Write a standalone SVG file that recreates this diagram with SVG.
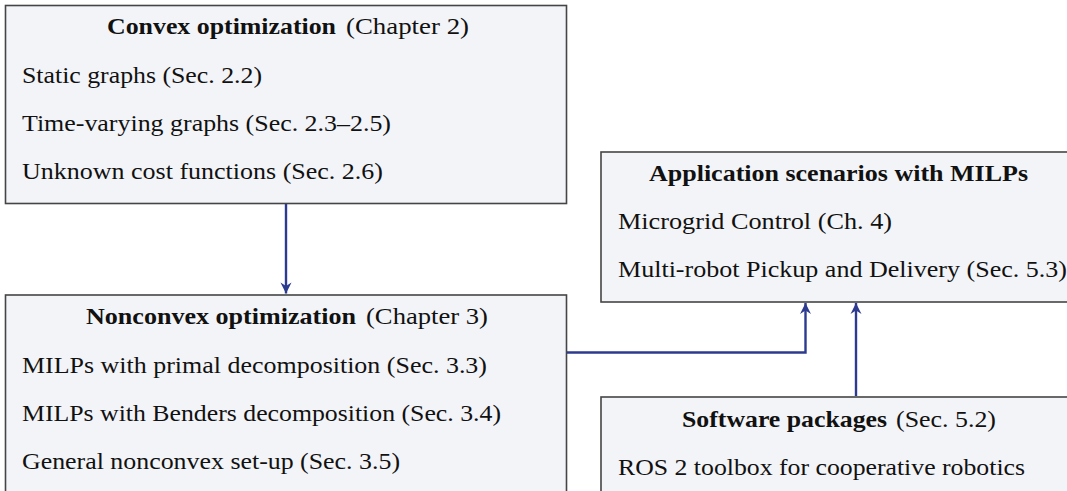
<svg xmlns="http://www.w3.org/2000/svg" width="1067" height="491" viewBox="0 0 1067 491">
<style>
.box{fill:#f3f4f8;stroke:#454545;stroke-width:1.6}
text{font-family:"Liberation Serif","Times New Roman",serif;font-size:24px;fill:#111}
.b{font-weight:bold}
.conn{fill:none;stroke:#2c3b8f;stroke-width:2.4}
</style>
<defs>
<marker id="arr" viewBox="-12 -7 13 14" refX="0" refY="0" markerWidth="13" markerHeight="14" markerUnits="userSpaceOnUse" orient="auto">
<path d="M0,0 L-11,-5.5 L-7.5,0 L-11,5.5 Z" fill="#2c3b8f"/>
</marker>
</defs>
<rect width="1067" height="491" fill="#ffffff"/>
<g id="convex">
<rect class="box" x="5.5" y="5.5" width="561" height="198"/>
<text class="b" x="107" y="34" textLength="229" lengthAdjust="spacingAndGlyphs">Convex optimization</text>
<text x="346" y="34" textLength="123" lengthAdjust="spacingAndGlyphs">(Chapter 2)</text>
<text x="22" y="83" textLength="240" lengthAdjust="spacingAndGlyphs">Static graphs (Sec. 2.2)</text>
<text x="22" y="131" textLength="369" lengthAdjust="spacingAndGlyphs">Time-varying graphs (Sec. 2.3–2.5)</text>
<text x="22" y="179" textLength="361" lengthAdjust="spacingAndGlyphs">Unknown cost functions (Sec. 2.6)</text>
</g>
<g id="nonconvex">
<rect class="box" x="5.5" y="295" width="561" height="210"/>
<text class="b" x="86" y="324" textLength="270" lengthAdjust="spacingAndGlyphs">Nonconvex optimization</text>
<text x="366" y="324" textLength="122" lengthAdjust="spacingAndGlyphs">(Chapter 3)</text>
<text x="22" y="373" textLength="465" lengthAdjust="spacingAndGlyphs">MILPs with primal decomposition (Sec. 3.3)</text>
<text x="22" y="421" textLength="479" lengthAdjust="spacingAndGlyphs">MILPs with Benders decomposition (Sec. 3.4)</text>
<text x="22" y="469" textLength="378" lengthAdjust="spacingAndGlyphs">General nonconvex set-up (Sec. 3.5)</text>
</g>
<g id="applications">
<rect class="box" x="601" y="152" width="480" height="150"/>
<text class="b" x="649" y="181" textLength="379" lengthAdjust="spacingAndGlyphs">Application scenarios with MILPs</text>
<text x="618" y="229" textLength="274" lengthAdjust="spacingAndGlyphs">Microgrid Control (Ch. 4)</text>
<text x="618" y="277" textLength="449" lengthAdjust="spacingAndGlyphs">Multi-robot Pickup and Delivery (Sec. 5.3)</text>
</g>
<g id="software">
<rect class="box" x="601" y="397" width="480" height="110"/>
<text class="b" x="682" y="427" textLength="205" lengthAdjust="spacingAndGlyphs">Software packages</text>
<text x="896" y="427" textLength="100" lengthAdjust="spacingAndGlyphs">(Sec. 5.2)</text>
<text x="618" y="475" textLength="407" lengthAdjust="spacingAndGlyphs">ROS 2 toolbox for cooperative robotics</text>
</g>
<g id="connectors">
<path class="conn" d="M286,204 V293.5" marker-end="url(#arr)"/>
<path class="conn" d="M567,352.5 H805.5 V303" marker-end="url(#arr)"/>
<path class="conn" d="M856,396 V303" marker-end="url(#arr)"/>
</g>
</svg>
